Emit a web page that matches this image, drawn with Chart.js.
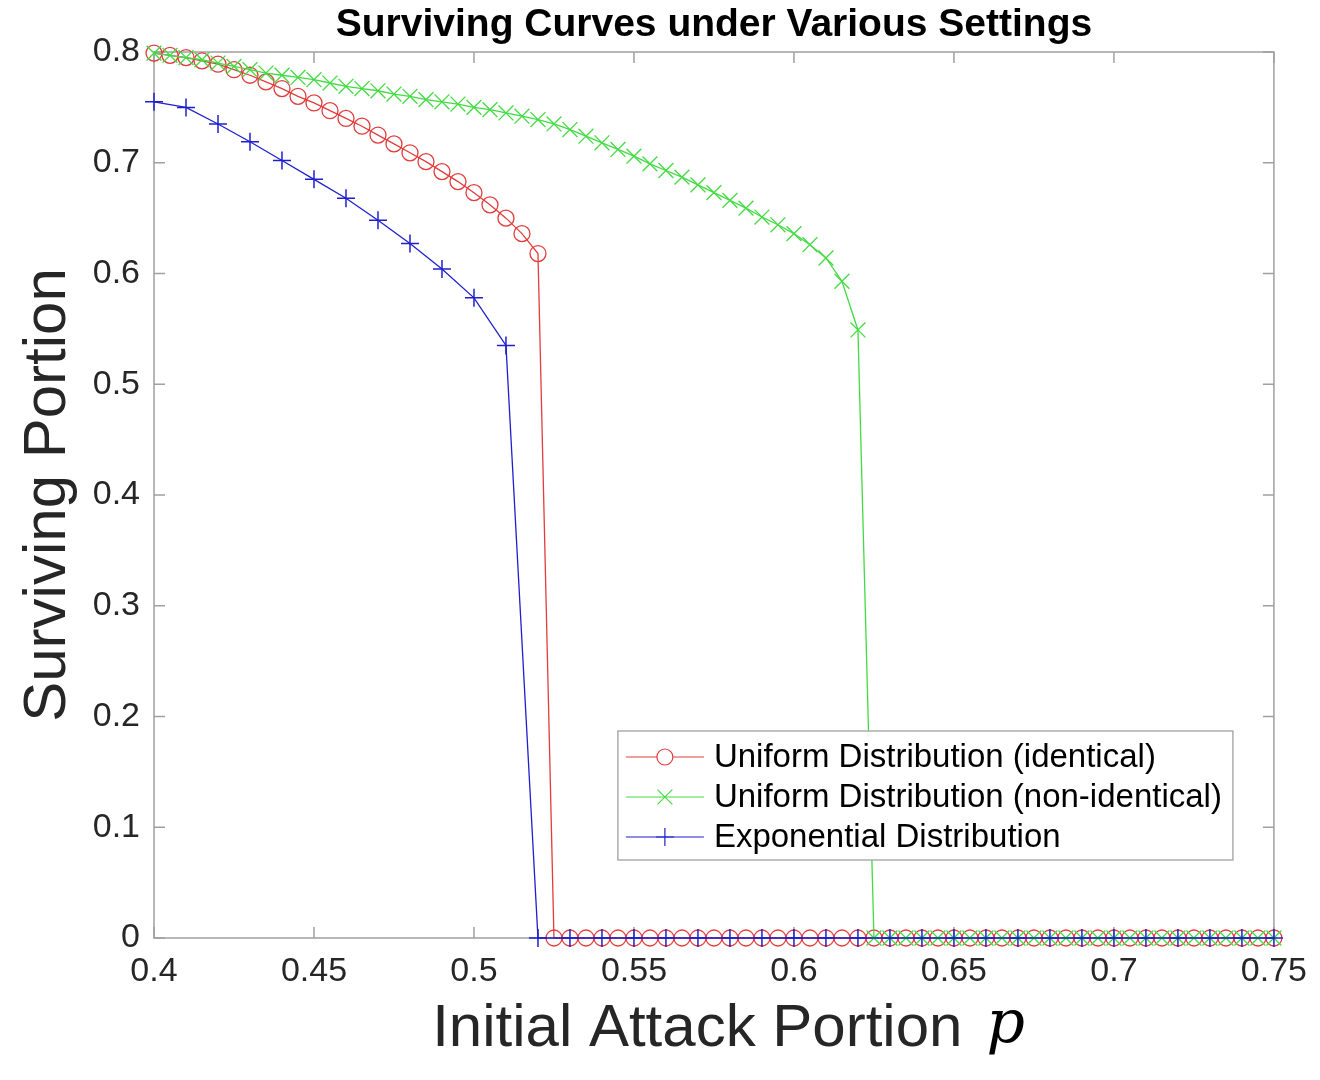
<!DOCTYPE html>
<html>
<head>
<meta charset="utf-8">
<script src="https://cdn.jsdelivr.net/npm/chart.js@4.4.1/dist/chart.umd.min.js"></script>
<style>
html,body{margin:0;padding:0;background:#fff;}
#wrap{width:1320px;height:1080px;}
</style>
</head>
<body>
<div id="wrap"><canvas id="c" width="1320" height="1080"></canvas></div>
<script>
// ---- data ----
const titleText = "Surviving Curves under Various Settings";
const xAxisTitle = "Initial Attack Portion";
const xAxisVar = "p";
const yAxisTitle = "Surviving Portion";

const xTickValues = [0.4, 0.45, 0.5, 0.55, 0.6, 0.65, 0.7, 0.75];
const xTickLabels = ["0.4", "0.45", "0.5", "0.55", "0.6", "0.65", "0.7", "0.75"];
const yTickValues = [0, 0.1, 0.2, 0.3, 0.4, 0.5, 0.6, 0.7, 0.8];
const yTickLabels = ["0", "0.1", "0.2", "0.3", "0.4", "0.5", "0.6", "0.7", "0.8"];

const seriesNames = [
  "Uniform Distribution (identical)",
  "Uniform Distribution (non-identical)",
  "Exponential Distribution"
];

// p values, step 0.005 (uniform series)
const pFine = [
  0.400, 0.405, 0.410, 0.415, 0.420, 0.425, 0.430, 0.435, 0.440, 0.445,
  0.450, 0.455, 0.460, 0.465, 0.470, 0.475, 0.480, 0.485, 0.490, 0.495,
  0.500, 0.505, 0.510, 0.515, 0.520, 0.525, 0.530, 0.535, 0.540, 0.545,
  0.550, 0.555, 0.560, 0.565, 0.570, 0.575, 0.580, 0.585, 0.590, 0.595,
  0.600, 0.605, 0.610, 0.615, 0.620, 0.625, 0.630, 0.635, 0.640, 0.645,
  0.650, 0.655, 0.660, 0.665, 0.670, 0.675, 0.680, 0.685, 0.690, 0.695,
  0.700, 0.705, 0.710, 0.715, 0.720, 0.725, 0.730, 0.735, 0.740, 0.745,
  0.750
];
// p values, step 0.01 (exponential series)
const pCoarse = [
  0.40, 0.41, 0.42, 0.43, 0.44, 0.45, 0.46, 0.47, 0.48, 0.49,
  0.50, 0.51, 0.52, 0.53, 0.54, 0.55, 0.56, 0.57, 0.58, 0.59,
  0.60, 0.61, 0.62, 0.63, 0.64, 0.65, 0.66, 0.67, 0.68, 0.69,
  0.70, 0.71, 0.72, 0.73, 0.74, 0.75
];

const uniformIdentical = [
  0.799, 0.797, 0.795, 0.792, 0.789, 0.784, 0.779, 0.773, 0.767, 0.760,
  0.754, 0.747, 0.740, 0.733, 0.725, 0.717, 0.709, 0.701, 0.692, 0.683,
  0.673, 0.662, 0.650, 0.636, 0.618, 0, 0, 0, 0, 0,
  0, 0, 0, 0, 0, 0, 0, 0, 0, 0,
  0, 0, 0, 0, 0, 0, 0, 0, 0, 0,
  0, 0, 0, 0, 0, 0, 0, 0, 0, 0,
  0, 0, 0, 0, 0, 0, 0, 0, 0, 0,
  0
];
const uniformNonIdentical = [
  0.799, 0.797, 0.795, 0.793, 0.790, 0.787, 0.784, 0.781, 0.779, 0.777,
  0.775, 0.772, 0.769, 0.767, 0.765, 0.762, 0.760, 0.757, 0.755, 0.753,
  0.750, 0.748, 0.745, 0.742, 0.739, 0.735, 0.730, 0.724, 0.718, 0.712,
  0.706, 0.699, 0.693, 0.687, 0.680, 0.673, 0.666, 0.659, 0.651, 0.644,
  0.636, 0.626, 0.614, 0.593, 0.549, 0, 0, 0, 0, 0,
  0, 0, 0, 0, 0, 0, 0, 0, 0, 0,
  0, 0, 0, 0, 0, 0, 0, 0, 0, 0,
  0
];
const exponential = [
  0.755, 0.750, 0.735, 0.719, 0.702, 0.685, 0.668, 0.648, 0.627, 0.604,
  0.578, 0.535, 0, 0, 0, 0, 0, 0, 0, 0,
  0, 0, 0, 0, 0, 0, 0, 0, 0, 0,
  0, 0, 0, 0, 0, 0
];

// ---- build ----
function pts(xs, ys) { return xs.map((x, i) => ({x: x, y: ys[i]})); }

const RED = '#e23c3c', GREEN = '#44da44', BLUE = '#1f1fcf';
const AXIS = '#a0a0a0', TEXT = '#262626';
const FONT = "'Liberation Sans', Arial, Helvetica, sans-serif";
const XTITLE_SIZE = 60;
const XTITLE_PAD = "  "; // trailing room for the italic variable

const datasets = [
  {label: seriesNames[0], data: pts(pFine, uniformIdentical), borderColor: RED, backgroundColor: 'rgba(0,0,0,0)',
   pointStyle: 'circle', pointRadius: 8, pointBorderWidth: 1.3, borderWidth: 1.3, order: 3},
  {label: seriesNames[1], data: pts(pFine, uniformNonIdentical), borderColor: GREEN, backgroundColor: 'rgba(0,0,0,0)',
   pointStyle: 'crossRot', pointRadius: 10.5, pointBorderWidth: 1.3, borderWidth: 1.3, order: 2},
  {label: seriesNames[2], data: pts(pCoarse, exponential), borderColor: BLUE, backgroundColor: 'rgba(0,0,0,0)',
   pointStyle: 'cross', pointRadius: 9, pointBorderWidth: 1.5, borderWidth: 1.3, order: 1}
];
datasets.forEach(d => { d.showLine = true; d.tension = 0; d.clip = false;
  d.pointBackgroundColor = 'rgba(0,0,0,0)'; d.pointBorderColor = d.borderColor; d.pointHoverRadius = d.pointRadius; });

const boxPlugin = {
  id: 'boxTicks',
  beforeDatasetsDraw(chart) {
    const {ctx, chartArea: a, scales} = chart;
    ctx.save();
    ctx.strokeStyle = AXIS;
    ctx.lineWidth = 1.5;
    ctx.strokeRect(a.left, a.top, a.right - a.left, a.bottom - a.top);
    const L = 11;
    ctx.beginPath();
    scales.x.ticks.forEach(t => {
      const px = scales.x.getPixelForValue(t.value);
      ctx.moveTo(px, a.bottom); ctx.lineTo(px, a.bottom - L);
      ctx.moveTo(px, a.top); ctx.lineTo(px, a.top + L);
    });
    scales.y.ticks.forEach(t => {
      const py = scales.y.getPixelForValue(t.value);
      ctx.moveTo(a.left, py); ctx.lineTo(a.left + L, py);
      ctx.moveTo(a.right, py); ctx.lineTo(a.right - L, py);
    });
    ctx.stroke();
    ctx.restore();
  },
  afterDraw(chart) {
    const {ctx, chartArea: a} = chart;
    // italic p after x title
    ctx.save();
    ctx.font = XTITLE_SIZE + "px " + FONT;
    const fullW = ctx.measureText(xAxisTitle + XTITLE_PAD).width;
    const padW = ctx.measureText(XTITLE_PAD).width;
    const cx = (a.left + a.right) / 2;
    const textEnd = cx + fullW / 2 - padW;
    ctx.font = "italic 60px 'DejaVu Serif', 'Liberation Serif', serif";
    ctx.fillStyle = '#000';
    ctx.textBaseline = 'middle';
    ctx.textAlign = 'left';
    ctx.fillText(xAxisVar, textEnd + 24, 1026);
    ctx.restore();

    // legend box inside plot
    ctx.save();
    ctx.font = "33px " + FONT;
    const texts = chart.data.datasets.map(d => d.label);
    const maxW = Math.max(...texts.map(t => ctx.measureText(t).width));
    const right = a.right - 41, bottom = a.bottom - 78;
    const rowH = 40;
    const boxW = 96 + maxW + 11;
    const boxH = 26 + rowH * (texts.length - 1) + 23;
    const left = right - boxW, top = bottom - boxH;
    ctx.fillStyle = '#fff';
    ctx.fillRect(left, top, boxW, boxH);
    ctx.strokeStyle = AXIS;
    ctx.lineWidth = 1.3;
    ctx.strokeRect(left, top, boxW, boxH);
    chart.data.datasets.forEach((d, i) => {
      const y = top + 26 + i * rowH;
      ctx.strokeStyle = d.borderColor;
      ctx.lineWidth = 1.2;
      ctx.beginPath();
      ctx.moveTo(left + 8, y); ctx.lineTo(left + 86, y);
      ctx.stroke();
      Chart.helpers.drawPoint(ctx, {pointStyle: d.pointStyle, radius: d.pointRadius, rotation: 0,
        borderWidth: d.pointBorderWidth}, left + 47, y);
      ctx.fillStyle = '#000';
      ctx.textBaseline = 'middle';
      ctx.textAlign = 'left';
      ctx.fillText(d.label, left + 96, y + 1);
    });
    ctx.restore();
  }
};

new Chart(document.getElementById('c'), {
  type: 'scatter',
  data: {datasets: datasets},
  plugins: [boxPlugin],
  options: {
    responsive: false,
    animation: false,
    devicePixelRatio: 1,
    layout: {padding: {left: 0, right: 45, top: 0, bottom: 0}},
    plugins: {
      legend: {display: false},
      tooltip: {enabled: false},
      title: {
        display: true, text: titleText, fullSize: false,
        color: '#000', font: {family: FONT, size: 39, weight: 'bold', lineHeight: 1.2},
        padding: {top: 2, bottom: 3.2}
      }
    },
    scales: {
      x: {
        type: 'linear', min: 0.4, max: 0.75,
        grid: {display: false, drawTicks: false},
        border: {display: false},
        afterBuildTicks: s => { s.ticks = xTickValues.map(v => ({value: v})); },
        afterFit: s => { s.height = 142; },
        ticks: {
          color: TEXT, padding: 13, maxRotation: 0, autoSkip: false,
          font: {family: FONT, size: 34},
          callback: (v) => { const i = xTickValues.findIndex(t => Math.abs(t - v) < 1e-9); return i >= 0 ? xTickLabels[i] : ''; }
        },
        title: {display: true, text: xAxisTitle + XTITLE_PAD, color: TEXT,
          font: {family: FONT, size: XTITLE_SIZE, lineHeight: 1.2}, padding: {top: 0, bottom: 15}}
      },
      y: {
        type: 'linear', min: 0, max: 0.8,
        grid: {display: false, drawTicks: false},
        border: {display: false},
        afterBuildTicks: s => { s.ticks = yTickValues.map(v => ({value: v})); },
        afterFit: s => { s.width = 154; },
        ticks: {
          color: TEXT, padding: 14, autoSkip: false,
          font: {family: FONT, size: 34},
          callback: (v) => { const i = yTickValues.findIndex(t => Math.abs(t - v) < 1e-9); return i >= 0 ? yTickLabels[i] : ''; }
        },
        title: {display: true, text: yAxisTitle, color: TEXT,
          font: {family: FONT, size: 60, lineHeight: 1.2}, padding: {top: 12, bottom: 0}}
      }
    }
  }
});
</script>
</body>
</html>
